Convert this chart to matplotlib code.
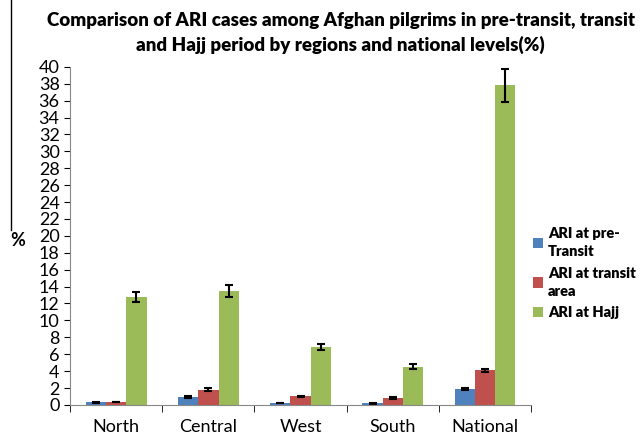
import numpy as np
import matplotlib.pyplot as plt
from matplotlib.lines import Line2D

plt.rcParams["font.family"] = ["Lato", "DejaVu Sans"]

# data
regions = ["North", "Central", "West", "South", "National"]
pre_transit = [0.3, 0.9, 0.25, 0.2, 1.9]
transit = [0.3, 1.8, 1.0, 0.8, 4.1]
hajj = [12.8, 13.5, 6.8, 4.5, 37.8]
pre_err = [0.1, 0.1, 0.0, 0.05, 0.1]
transit_err = [0.0, 0.15, 0.1, 0.1, 0.15]
hajj_err = [0.6, 0.7, 0.35, 0.3, 1.9]
series_names = ["ARI at pre-\nTransit", "ARI at transit\narea", "ARI at Hajj"]
colors = ["#4F81BD", "#C0504D", "#9BBB59"]

fig = plt.figure(figsize=(6.43, 4.43), dpi=100)
ax = fig.add_axes([0.109, 0.086, 0.717, 0.763])

x = np.arange(len(regions))
w = 0.22
err_kw = dict(ecolor="black", capsize=3, elinewidth=1.5, capthick=1.5)
for i, (vals, errs) in enumerate([(pre_transit, pre_err), (transit, transit_err), (hajj, hajj_err)]):
    ax.bar(x + (i - 1) * w, vals, w, color=colors[i], yerr=errs, error_kw=err_kw,
           label=series_names[i])

ax.set_xlim(-0.5, len(regions) - 0.5)
ax.set_ylim(0, 40)
ax.set_yticks(range(0, 41, 2))
ax.tick_params(axis="y", labelsize=13, length=4, direction="out")
ax.set_xticks(x)
ax.set_xticklabels(regions, fontsize=13)
ax.tick_params(axis="x", length=0, pad=10)
# category boundary ticks
ax.set_xticks(np.arange(-0.5, len(regions) + 0.5, 1), minor=True)
ax.tick_params(axis="x", which="minor", length=5, direction="out")
for s in ["top", "right"]:
    ax.spines[s].set_visible(False)
for s in ["left", "bottom"]:
    ax.spines[s].set_color("#888888")

fig.text(0.028, 0.458, "%", fontsize=13, fontweight="bold", ha="center", va="center")

fig.text(0.53, 0.925, "Comparison of ARI cases among Afghan pilgrims in pre-transit, transit\nand Hajj period by regions and national levels(%)",
         ha="center", va="center", fontsize=13.5, fontweight="heavy", linespacing=1.45)

leg = ax.legend(loc="center left", bbox_to_anchor=(0.975, 0.39), frameon=False,
                prop={"size": 10.5, "weight": "heavy"}, handlelength=0.7, handleheight=0.7,
                handletextpad=0.35, labelspacing=0.6)
for t in leg.get_texts():
    t.set_linespacing(1.45)

# stray border line on the left of the original image
fig.add_artist(Line2D([0.017, 0.017], [0.48, 1.0], color="black", lw=1))

fig.savefig("out.png", dpi=100)
